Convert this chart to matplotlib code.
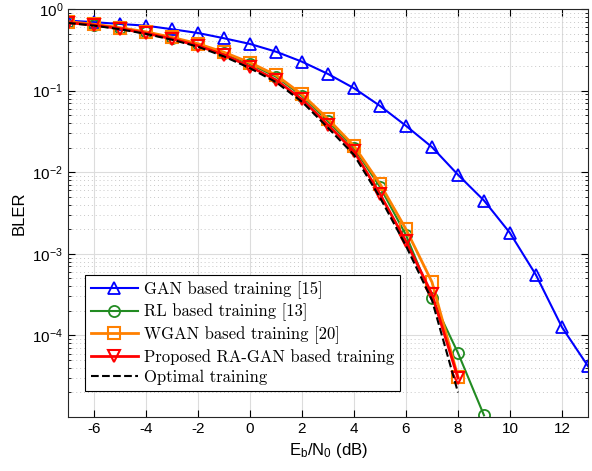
import numpy as np
import matplotlib.pyplot as plt
from matplotlib.ticker import LogLocator, NullFormatter

snr = [-7, -6, -5, -4, -3, -2, -1, 0, 1, 2, 3, 4, 5, 6, 7, 8, 9, 10, 11, 12, 13]
gan = [0.72, 0.69, 0.655, 0.625, 0.565, 0.508, 0.438, 0.373, 0.30, 0.226, 0.16,
       0.107, 0.065, 0.037, 0.0203, 0.0093, 0.0045, 0.0018, 5.5e-4, 1.26e-4, 4.2e-5]

snr_rl = [-7, -6, -5, -4, -3, -2, -1, 0, 1, 2, 3, 4, 5, 6, 7, 8, 9]
rl = [0.69, 0.645, 0.585, 0.52, 0.445, 0.37, 0.287, 0.212, 0.148, 0.086, 0.042,
      0.0198, 0.0066, 0.0017, 2.85e-4, 6.1e-5, 1.05e-5]

snr_w = [-7, -6, -5, -4, -3, -2, -1, 0, 1, 2, 3, 4, 5, 6, 7, 8]
wgan = [0.70, 0.65, 0.59, 0.525, 0.45, 0.375, 0.295, 0.22, 0.155, 0.09, 0.045,
        0.021, 0.0072, 0.002, 4.5e-4, 3.1e-5]
ragan = [0.68, 0.635, 0.575, 0.505, 0.43, 0.355, 0.273, 0.197, 0.135, 0.078, 0.038,
         0.018, 0.0054, 0.00142, 3.2e-4, 3.0e-5]
optimal = [0.675, 0.625, 0.565, 0.495, 0.42, 0.345, 0.262, 0.188, 0.127, 0.073, 0.035,
           0.0163, 0.0049, 0.00125, 2.7e-4, 2.0e-5]

plt.rcParams['font.family'] = ['Liberation Sans', 'DejaVu Sans']
plt.rcParams['mathtext.fontset'] = 'custom'
plt.rcParams['mathtext.rm'] = 'Liberation Sans'
plt.rcParams['mathtext.it'] = 'Liberation Sans:italic'
plt.rcParams['axes.unicode_minus'] = False

fig = plt.figure(figsize=(5.92, 4.71), dpi=100)
ax = fig.add_axes([0.1149, 0.1146, 0.8783, 0.8663])

lw = 1.5
ms = 8
ax.semilogy(snr, gan, color="#0000ff", marker="^", mfc="none", ms=ms, mew=1.3, lw=lw,
            label="GAN based training [15]")
ax.semilogy(snr_rl, rl, color="#228b22", marker="o", mfc="none", ms=ms, mew=1.3, lw=lw,
            label="RL based training [13]")
ax.semilogy(snr_w, wgan, color="#ff8000", marker="s", mfc="none", ms=ms, mew=1.5, lw=2,
            label="WGAN based training [20]")
ax.semilogy(snr_w, ragan, color="#ff0000", marker="v", mfc="none", ms=ms, mew=1.5, lw=2,
            label="Proposed RA-GAN based training")
ax.semilogy(snr_w, optimal, color="black", ls="--", lw=1.5,
            label="Optimal training")

ax.set_xlim(-7, 13)
ax.set_ylim(1e-5, 1)
ax.set_xticks([-6, -4, -2, 0, 2, 4, 6, 8, 10, 12])
ax.set_yticks([1e0, 1e-1, 1e-2, 1e-3, 1e-4])
ax.yaxis.set_minor_locator(LogLocator(base=10, subs=np.arange(2, 10)))
ax.yaxis.set_minor_formatter(NullFormatter())
ax.grid(True, which="major", color="#dcdcdc", lw=0.8)
ax.grid(True, which="minor", axis="y", color="#c8c8c8", ls=(0, (1, 3)), lw=0.7)
ax.set_axisbelow(True)
ax.tick_params(which="both", direction="in", top=True, right=True, labelsize=11)
ax.tick_params(which="major", length=5)
ax.tick_params(which="minor", length=2.5)
for s in ax.spines.values():
    s.set_color("#262626")

ax.set_xlabel("E$_\\mathrm{b}$/N$_\\mathrm{0}$ (dB)", fontsize=12)
ax.set_ylabel("BLER", fontsize=12)

leg = ax.legend(loc="lower left", bbox_to_anchor=(0.033, 0.064), borderaxespad=0,
                fancybox=False, edgecolor="black", framealpha=1,
                prop={"family": "cmr10", "size": 12},
                handlelength=2.8, borderpad=0.35, labelspacing=0.3, handletextpad=0.35)
leg.get_frame().set_linewidth(0.8)

fig.savefig("out.png", dpi=100)
